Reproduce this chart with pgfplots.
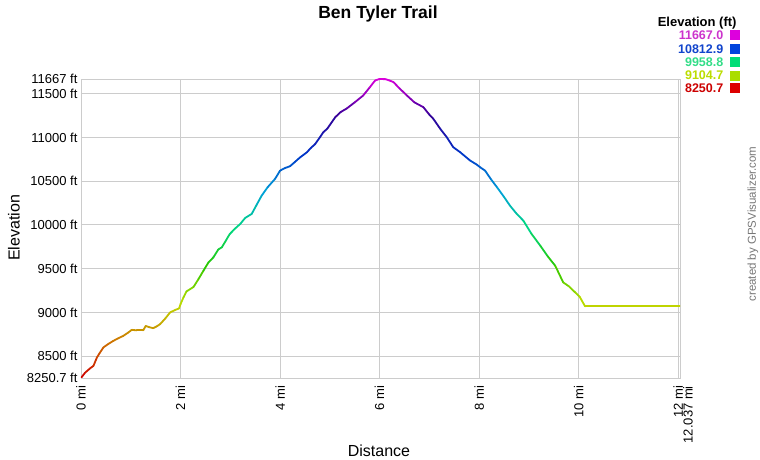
\documentclass[border=0pt]{standalone}
\usepackage{pgfplots}
\pgfplotsset{compat=1.18}
\usepackage{fontspec}
\setmainfont{Liberation Sans}
\definecolor{gridgray}{RGB}{204,204,204}
\definecolor{lmag}{RGB}{204,51,204}
\definecolor{lmagsq}{RGB}{221,0,221}
\definecolor{lblue}{RGB}{17,68,204}
\definecolor{lbluesq}{RGB}{0,68,221}
\definecolor{lgreen}{RGB}{51,221,136}
\definecolor{lgreensq}{RGB}{0,221,119}
\definecolor{lyel}{RGB}{187,221,0}
\definecolor{lyelsq}{RGB}{170,221,0}
\definecolor{lred}{RGB}{204,0,0}
\definecolor{lredsq}{RGB}{221,0,0}
\definecolor{credit}{RGB}{119,119,119}
\begin{document}
\begin{tikzpicture}
\useasboundingbox (0,0) rectangle (760pt,460pt);
\begin{axis}[
  at={(81pt,82pt)}, anchor=south west,
  scale only axis, width=599pt, height=299pt,
  xmin=0, xmax=12.037, ymin=8250.7, ymax=11667,
  scaled y ticks=false, scaled x ticks=false,
  axis line style={gridgray, line width=0.8pt},
  grid=major, grid style={gridgray, line width=0.8pt},
  major tick length=0pt,
  xtick={0,2,4,6,8,10,12},
  xticklabels={0 mi,2 mi,4 mi,6 mi,8 mi,10 mi,12 mi},
  ytick={8250.7,8500,9000,9500,10000,10500,11000,11500,11667},
  yticklabels={8250.7 ft,8500 ft,9000 ft,9500 ft,10000 ft,10500 ft,11000 ft,11500 ft,11667 ft},
  x tick label style={rotate=90, anchor=east, font=\fontsize{13}{13}\selectfont},
  y tick label style={font=\fontsize{13}{13}\selectfont},
  xticklabel shift=4pt,
  colormap={trail}{rgb255=(205,0,0) rgb255=(205,120,0) rgb255=(190,220,0) rgb255=(40,200,0) rgb255=(0,215,130) rgb255=(0,160,215) rgb255=(0,50,200) rgb255=(50,0,150) rgb255=(220,0,220)},
  point meta min=8250.7, point meta max=11667,
]
\addplot[mesh, line width=1.8pt, line cap=round, line join=round, point meta=y] coordinates {
(0,8250.7) (0.08,8310) (0.18,8360) (0.25,8389) (0.32,8485) (0.38,8540) (0.45,8600)
(0.55,8640) (0.65,8675) (0.75,8705) (0.85,8732) (0.95,8770) (1.02,8801) (1.12,8795)
(1.25,8795) (1.30,8845) (1.38,8830) (1.45,8820) (1.52,8840) (1.59,8866) (1.70,8935)
(1.79,9000) (1.90,9030) (1.97,9045) (2.00,9095) (2.06,9172) (2.12,9240) (2.26,9290)
(2.36,9380) (2.46,9476) (2.56,9570) (2.66,9629) (2.76,9720) (2.83,9744) (2.91,9820)
(2.99,9896) (3.10,9960) (3.20,10011) (3.30,10080) (3.43,10125) (3.53,10230) (3.63,10334)
(3.75,10430) (3.90,10526) (4.00,10620) (4.10,10650) (4.20,10670) (4.30,10720) (4.40,10770)
(4.54,10830) (4.62,10880) (4.70,10920) (4.80,11000) (4.87,11059) (4.95,11100) (5.11,11231)
(5.22,11290) (5.34,11330) (5.50,11400) (5.67,11478) (5.80,11570) (5.91,11650) (6.00,11667)
(6.12,11665) (6.20,11650) (6.28,11631) (6.40,11560) (6.55,11478) (6.70,11400) (6.88,11345)
(7.00,11260) (7.08,11212) (7.22,11097) (7.35,11002) (7.48,10888) (7.62,10830) (7.82,10735)
(7.95,10690) (8.02,10659) (8.12,10620) (8.24,10520) (8.36,10430) (8.50,10320) (8.62,10220)
(8.75,10130) (8.89,10048) (9.05,9900) (9.23,9762) (9.38,9640) (9.53,9533) (9.69,9343)
(9.80,9300) (9.93,9229) (10.02,9180) (10.13,9069) (12.037,9069)
};
\coordinate (endpt) at (axis cs:12.037,8250.7);
\end{axis}
\node[rotate=90, anchor=east, font=\fontsize{13}{13}\selectfont, inner sep=0pt]
  at ([xshift=8pt,yshift=-8pt]endpt) {12.037 mi};
\node[font=\bfseries\fontsize{17.5}{17.5}\selectfont, anchor=base] at (378pt,441.5pt) {Ben Tyler Trail};
\node[font=\fontsize{16}{16}\selectfont, anchor=base] at (379pt,3.5pt) {Distance};
\node[font=\fontsize{16}{16}\selectfont, rotate=90] at (14pt,232pt) {Elevation};
\node[font=\bfseries\fontsize{13}{13}\selectfont, anchor=base east, inner sep=0pt] at (736.7pt,433.5pt) {Elevation (ft)};
\node[font=\bfseries\fontsize{12.5}{12.5}\selectfont, anchor=east, inner sep=0pt, text=lmag] at (723.5pt,425pt) {11667.0};
\node[font=\bfseries\fontsize{12.5}{12.5}\selectfont, anchor=east, inner sep=0pt, text=lblue] at (723.5pt,410.7pt) {10812.9};
\node[font=\bfseries\fontsize{12.5}{12.5}\selectfont, anchor=east, inner sep=0pt, text=lgreen] at (723.5pt,397.7pt) {9958.8};
\node[font=\bfseries\fontsize{12.5}{12.5}\selectfont, anchor=east, inner sep=0pt, text=lyel] at (723.5pt,384.3pt) {9104.7};
\node[font=\bfseries\fontsize{12.5}{12.5}\selectfont, anchor=east, inner sep=0pt, text=lred] at (723.5pt,371.7pt) {8250.7};
\fill[lmagsq] (730pt,420pt) rectangle (740pt,430pt);
\fill[lbluesq] (730pt,405.7pt) rectangle (740pt,415.7pt);
\fill[lgreensq] (730pt,392.7pt) rectangle (740pt,402.7pt);
\fill[lyelsq] (730pt,379.3pt) rectangle (740pt,389.3pt);
\fill[lredsq] (730pt,366.7pt) rectangle (740pt,376.7pt);
\node[font=\fontsize{11.5}{11.5}\selectfont, rotate=90, text=credit] at (753pt,236pt) {created by GPSVisualizer.com};
\end{tikzpicture}
\end{document}
